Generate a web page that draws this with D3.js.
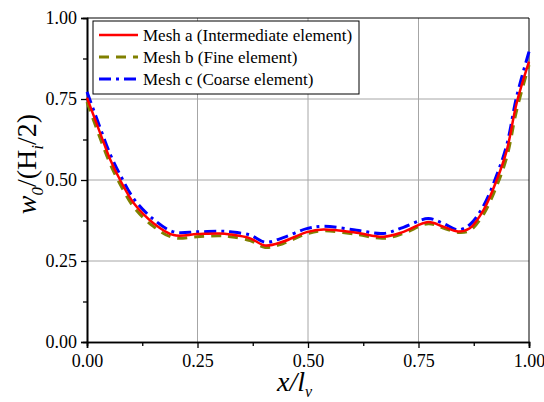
<!DOCTYPE html>
<html>
<head>
<meta charset="utf-8">
<script src="https://cdn.jsdelivr.net/npm/d3@7"></script>
<style>
  body { margin: 0; background: #fff; }
  svg { display: block; font-family: "Liberation Serif", "Times New Roman", serif; }
  svg text { font-family: "Liberation Serif", "Times New Roman", serif; }
</style>
</head>
<body>
<div id="chart"></div>
<script>
// data
const seriesNames = ['Mesh a (Intermediate element)', 'Mesh b (Fine element)', 'Mesh c (Coarse element)']
const meshA = [
  [0.00, 0.754], [0.03, 0.644], [0.053, 0.562], [0.075, 0.50], [0.106, 0.428], [0.151, 0.366],
  [0.196, 0.330], [0.249, 0.333], [0.30, 0.335], [0.324, 0.332], [0.369, 0.320], [0.403, 0.298],
  [0.444, 0.310], [0.497, 0.339], [0.535, 0.347], [0.61, 0.337], [0.671, 0.325], [0.716, 0.340],
  [0.772, 0.370], [0.806, 0.356], [0.84, 0.341], [0.866, 0.351], [0.897, 0.407], [0.927, 0.50],
  [0.95, 0.593], [0.972, 0.737], [1.00, 0.865]
]
const meshB = [
  [0.00, 0.741], [0.03, 0.628], [0.053, 0.548], [0.075, 0.487], [0.106, 0.416], [0.151, 0.356],
  [0.196, 0.322], [0.249, 0.325], [0.30, 0.328], [0.324, 0.325], [0.369, 0.313], [0.403, 0.292],
  [0.444, 0.304], [0.497, 0.334], [0.535, 0.343], [0.61, 0.332], [0.671, 0.320], [0.716, 0.335],
  [0.772, 0.365], [0.806, 0.352], [0.84, 0.338], [0.866, 0.344], [0.897, 0.394], [0.927, 0.482],
  [0.95, 0.572], [0.972, 0.715], [1.00, 0.855]
]
const meshC = [
  [0.00, 0.772], [0.03, 0.660], [0.053, 0.578], [0.075, 0.516], [0.106, 0.442], [0.151, 0.378],
  [0.196, 0.340], [0.249, 0.340], [0.30, 0.342], [0.324, 0.340], [0.369, 0.330], [0.403, 0.308],
  [0.444, 0.322], [0.497, 0.350], [0.535, 0.357], [0.61, 0.345], [0.671, 0.335], [0.716, 0.354],
  [0.772, 0.381], [0.806, 0.366], [0.84, 0.346], [0.866, 0.362], [0.897, 0.420], [0.927, 0.515],
  [0.95, 0.610], [0.972, 0.757], [1.00, 0.896]
]
const xTicks = [0, 0.25, 0.5, 0.75, 1]
const yTicks = [0, 0.25, 0.5, 0.75, 1]
const minorTicks = [0.125, 0.375, 0.625, 0.875]

const width = 544
const height = 402
const margin = { top: 18, left: 87, right: 15, bottom: 60 }
const w = width - margin.left - margin.right
const h = height - margin.top - margin.bottom

const svg = d3.select('#chart').append('svg')
    .attr('width', width)
    .attr('height', height)
const g = svg.append('g')
    .attr('transform', `translate(${margin.left}, ${margin.top})`)

const xScale = d3.scaleLinear().domain([0, 1]).range([0, w])
const yScale = d3.scaleLinear().domain([0, 1]).range([h, 0])

// grid
g.append('g').selectAll('line').data(xTicks.slice(1, -1))
    .join('line')
    .attr('x1', d => xScale(d)).attr('x2', d => xScale(d))
    .attr('y1', 0).attr('y2', h)
    .attr('stroke', '#a6a6a6').attr('stroke-width', 1)
g.append('g').selectAll('line').data(yTicks.slice(1, -1))
    .join('line')
    .attr('y1', d => yScale(d)).attr('y2', d => yScale(d))
    .attr('x1', 0).attr('x2', w)
    .attr('stroke', '#a6a6a6').attr('stroke-width', 1)

// frame
g.append('line').attr('x1', 0).attr('x2', w).attr('y1', 0).attr('y2', 0)
    .attr('stroke', '#000').attr('stroke-width', 1)
g.append('line').attr('x1', w).attr('x2', w).attr('y1', 0).attr('y2', h)
    .attr('stroke', '#000').attr('stroke-width', 1)

// axes
const fmt = d3.format('.2f')
const xAxis = g.append('g')
    .attr('transform', `translate(0, ${h})`)
    .call(d3.axisBottom(xScale).tickValues(xTicks).tickFormat(fmt).tickSize(6).tickPadding(6))
const xMinor = g.append('g')
    .attr('transform', `translate(0, ${h})`)
    .call(d3.axisBottom(xScale).tickValues(minorTicks).tickFormat('').tickSize(4))
const yAxis = g.append('g')
    .call(d3.axisLeft(yScale).tickValues(yTicks).tickFormat(fmt).tickSize(6).tickPadding(4))
const yMinor = g.append('g')
    .call(d3.axisLeft(yScale).tickValues(minorTicks).tickFormat('').tickSize(4))
for (const a of [xAxis, xMinor, yAxis, yMinor]) {
    a.attr('font-family', null).attr('font-size', 18)
    a.select('.domain').attr('stroke', '#000').attr('stroke-width', 1.6)
    a.selectAll('.tick line').attr('stroke', '#000').attr('stroke-width', 1.3)
    a.selectAll('.tick text').attr('fill', '#000')
}

// lines
const line = d3.line()
    .curve(d3.curveCatmullRom)
    .x(d => xScale(d[0]))
    .y(d => yScale(d[1]))
const styles = [
    { color: '#808000', width: 3, dash: '10,7' },
    { color: '#0000ff', width: 3, dash: '12,5,3,5' },
    { color: '#ff0000', width: 2.5, dash: null }
]
const plotOrder = [[meshB, styles[0]], [meshC, styles[1]], [meshA, styles[2]]]
for (const [data, s] of plotOrder) {
    g.append('path')
        .datum(data)
        .attr('fill', 'none')
        .attr('stroke', s.color)
        .attr('stroke-width', s.width)
        .attr('stroke-dasharray', s.dash)
        .attr('d', line)
}

// legend
const legStyles = [styles[2], styles[0], styles[1]]
const leg = svg.append('g').attr('transform', 'translate(93, 21)')
leg.append('rect')
    .attr('x', 0).attr('y', 0)
    .attr('width', 266).attr('height', 73)
    .attr('fill', '#fff')
    .attr('stroke', '#000').attr('stroke-width', 1)
const legItems = leg.selectAll('g.item').data(seriesNames)
    .join('g')
    .attr('class', 'item')
    .attr('transform', (d, i) => `translate(0, ${14 + i * 22})`)
legItems.append('line')
    .attr('x1', 6).attr('x2', 45)
    .attr('y1', 0).attr('y2', 0)
    .attr('stroke', (d, i) => legStyles[i].color)
    .attr('stroke-width', (d, i) => legStyles[i].width)
    .attr('stroke-dasharray', (d, i) => legStyles[i].dash)
legItems.append('text')
    .attr('x', 50).attr('y', 5.5)
    .style('font-size', '17px')
    .text(d => d)

// axis titles
const xt = svg.append('text')
    .attr('x', 277)
    .attr('y', 391)
    .style('font-size', '28px')
    .style('font-style', 'italic')
xt.append('tspan').text('x/l')
xt.append('tspan').attr('dy', 6).style('font-size', '16px').text('v')

const yt = svg.append('text')
    .attr('transform', `translate(36, 164) rotate(-90)`)
    .attr('text-anchor', 'middle')
    .style('font-size', '28px')
yt.append('tspan').style('font-style', 'italic').text('w')
yt.append('tspan').attr('dy', 7).style('font-size', '17px').style('font-style', 'italic').text('0')
yt.append('tspan').attr('dy', -7).text('/(H')
yt.append('tspan').attr('dy', 7).style('font-size', '17px').style('font-style', 'italic').text('i')
yt.append('tspan').attr('dy', -7).text('/2)')
</script>
</body>
</html>
